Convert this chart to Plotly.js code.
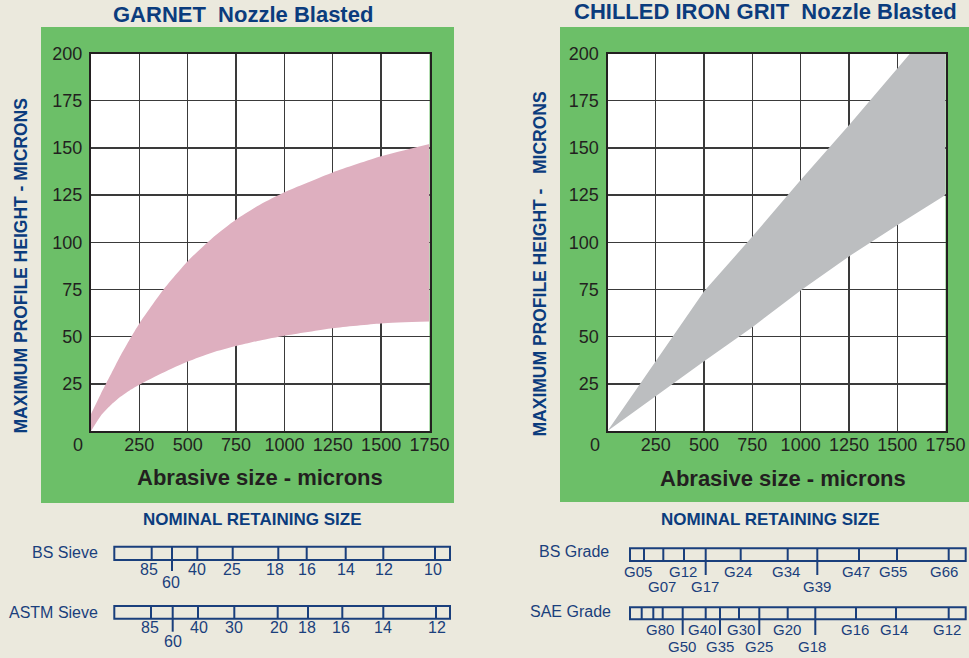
<!DOCTYPE html>
<html><head><meta charset="utf-8">
<script src="https://cdn.plot.ly/plotly-3.0.1.min.js"></script>
<style>html,body{margin:0;padding:0;background:#ebe9dd;}#chart{width:969px;height:658px;}</style>
</head><body><div id="chart"></div>
<script>
// ---------------- data ----------------
const garnetSize = [0, 50, 100, 150, 200, 250, 375, 500, 625, 750, 875, 1000, 1250, 1500, 1750];
const garnetLow  = [0, 8, 13.5, 18, 21.5, 24.5, 31, 36.8, 41.5, 45, 48, 50.5, 54.5, 57, 58];
const garnetHigh = [9, 19.5, 29.5, 39.5, 48.5, 57, 75, 90, 102, 112, 120, 126.5, 137, 145.5, 152];
const ironSize = [0, 250, 500, 750, 1000, 1250, 1500, 1750];
const ironLow  = [0, 18.5, 37, 55, 74.5, 92.5, 109, 125];
const ironHigh = [0, 37, 74, 103, 133, 162, 192, 222];
const xTicks = [250, 500, 750, 1000, 1250, 1500, 1750];
const yTicks = [25, 50, 75, 100, 125, 150, 175, 200];
const bsSieve   = ['85', '60', '40', '25', '18', '16', '14', '12', '10'];
const astmSieve = ['85', '60', '40', '30', '20', '18', '16', '14', '12'];
const bsGrade   = ['G05', 'G07', 'G12', 'G17', 'G24', 'G34', 'G39', 'G47', 'G55', 'G66'];
const saeGrade  = ['G80', 'G50', 'G40', 'G35', 'G30', 'G25', 'G20', 'G18', 'G16', 'G14', 'G12'];

// ---------------- layout helpers ----------------
const W = 969, H = 658;
const px = x => x / W, py = y => 1 - y / H;
const NAVY = '#1a3f7c', TITLE = '#0b3c7d', INK = '#231f20';
const GREEN = '#6cbf68', PINK = '#deafbf', GREY = '#bcbec0';
const SANS = 'Liberation Sans, Arial, Helvetica, sans-serif';
const NARROW = 'Liberation Sans Narrow, Arial Narrow, Liberation Sans, sans-serif';

const sieves = [
  {name: 'BS Sieve', labels: bsSieve, nameX: 99.5, nameY: 552.5, bar: [114.3, 450, 546.7, 560],
   dividers: [151.7, 172, 197.3, 232.7, 278.3, 306.7, 345.7, 383.3, 435], longDiv: [172], longTo: 571,
   labelX: [149, 170.7, 196.7, 232.3, 275.3, 306.7, 345.7, 384, 432.7],
   labelRow: [0, 1, 0, 0, 0, 0, 0, 0, 0], rowY: [569.7, 582.3], size: 16},
  {name: 'ASTM Sieve', labels: astmSieve, nameX: 99.5, nameY: 612.5, bar: [114.3, 450, 606, 618.7],
   dividers: [151, 172.7, 198, 234.3, 277.7, 308, 342.3, 383.3, 436], longDiv: [172.7], longTo: 631.7,
   labelX: [150, 173.3, 199, 234.3, 278.7, 307.3, 340.7, 382.7, 436.7],
   labelRow: [0, 1, 0, 0, 0, 0, 0, 0, 0], rowY: [627.7, 641.7], size: 16},
  {name: 'BS Grade', labels: bsGrade, nameX: 611, nameY: 551.7, bar: [630, 965.7, 548.3, 561],
   dividers: [644, 663.3, 684, 705.7, 740.7, 787.7, 817.3, 859, 897, 948.7], longDiv: [705.7, 817.3], longTo: 575,
   labelX: [637.7, 661.7, 683.3, 705, 738.3, 786, 816.7, 856, 892.7, 944],
   labelRow: [0, 1, 0, 1, 0, 0, 1, 0, 0, 0], rowY: [571, 586], size: 15},
  {name: 'SAE Grade', labels: saeGrade, nameX: 612.5, nameY: 611.7, bar: [630, 965.7, 607.3, 619.3],
   dividers: [641.7, 653.3, 662.7, 682.7, 705.7, 720, 739, 759.3, 787.7, 815.3, 856, 896, 948.7],
   longDiv: [682.7, 720, 759.3, 815.3], longTo: 635,
   labelX: [660, 682.3, 701.7, 720, 740.7, 759.3, 786.7, 812, 855, 894, 946.7],
   labelRow: [0, 1, 0, 1, 0, 1, 0, 1, 0, 0, 0], rowY: [629.3, 646.7], size: 15}
];

// ---------------- traces ----------------
const traces = [
  {x: garnetSize, y: garnetLow, xaxis: 'x', yaxis: 'y', mode: 'lines', line: {width: 0, shape: 'spline', smoothing: 0.6}, hoverinfo: 'skip'},
  {x: garnetSize, y: garnetHigh, xaxis: 'x', yaxis: 'y', mode: 'lines', line: {width: 0, shape: 'spline', smoothing: 0.6},
   fill: 'tonexty', fillcolor: PINK, hoverinfo: 'skip'},
  {x: ironSize, y: ironLow, xaxis: 'x2', yaxis: 'y2', mode: 'lines', line: {width: 0}, hoverinfo: 'skip'},
  {x: ironSize, y: ironHigh, xaxis: 'x2', yaxis: 'y2', mode: 'lines', line: {width: 0},
   fill: 'tonexty', fillcolor: GREY, hoverinfo: 'skip'}
];

// ---------------- axes ----------------
const axBase = {showline: true, mirror: true, linecolor: INK, linewidth: 2, showgrid: true,
  gridcolor: '#3a3a3a', gridwidth: 1.4, zeroline: false, ticks: '', fixedrange: true,
  tickfont: {family: NARROW, size: 18, color: INK}};
const xAx = (dom, anchor) => Object.assign({}, axBase, {domain: dom, anchor: anchor, range: [0, 1750],
  tickmode: 'array', tickvals: xTicks, ticktext: xTicks.map(String), ticklabelstandoff: -4});
const yAx = (anchor) => Object.assign({}, axBase, {domain: [py(431), py(53.5)], anchor: anchor, range: [0, 200],
  tickmode: 'array', tickvals: yTicks, ticktext: yTicks.map(String), ticklabelstandoff: 3});

const shapes = [
  {type: 'rect', xref: 'paper', yref: 'paper', x0: px(41), x1: px(454), y0: py(503), y1: py(27), fillcolor: GREEN, line: {width: 0}, layer: 'below'},
  {type: 'rect', xref: 'paper', yref: 'paper', x0: px(560), x1: px(969), y0: py(502), y1: py(27), fillcolor: GREEN, line: {width: 0}, layer: 'below'},
  {type: 'rect', xref: 'x domain', yref: 'y domain', x0: 0, x1: 1, y0: 0, y1: 1, fillcolor: '#ffffff', line: {width: 0}, layer: 'below'},
  {type: 'rect', xref: 'x2 domain', yref: 'y2 domain', x0: 0, x1: 1, y0: 0, y1: 1, fillcolor: '#ffffff', line: {width: 0}, layer: 'below'}
];

const annotations = [];
const ann = (text, x, y, o) => annotations.push(Object.assign({text: text, xref: 'paper', yref: 'paper',
  x: px(x), y: py(y), showarrow: false, xanchor: 'center', yanchor: 'middle'}, o || {}));

// titles
ann('GARNET\u00A0\u00A0Nozzle Blasted', 243, 15, {font: {family: SANS, size: 22, color: TITLE, weight: 'bold'}});
ann('CHILLED IRON GRIT\u00A0\u00A0Nozzle Blasted', 765, 12, {font: {family: SANS, size: 22, color: TITLE, weight: 'bold'}});
// axis titles
ann('Abrasive size - microns', 260, 477, {font: {family: SANS, size: 22, color: INK, weight: 'bold'}});
ann('Abrasive size - microns', 783, 478, {font: {family: SANS, size: 22, color: INK, weight: 'bold'}});
ann('MAXIMUM PROFILE HEIGHT - MICRONS', 20, 266.5, {textangle: -90, font: {family: SANS, size: 17.5, color: TITLE, weight: 'bold'}});
ann('MAXIMUM PROFILE HEIGHT -\u00A0\u00A0\u00A0MICRONS', 539.5, 264, {textangle: -90, font: {family: SANS, size: 17.5, color: TITLE, weight: 'bold'}});
// shared origin labels
ann('0', 78, 445, {font: {family: NARROW, size: 18, color: INK}});
ann('0', 595.3, 445, {font: {family: NARROW, size: 18, color: INK}});
// nominal retaining size headings
ann('NOMINAL RETAINING SIZE', 252.7, 519, {font: {family: SANS, size: 17, color: TITLE, weight: 'bold'}});
ann('NOMINAL RETAINING SIZE', 770, 519, {font: {family: SANS, size: 17, color: TITLE, weight: 'bold'}});

// sieve scales
sieves.forEach(s => {
  const [bx0, bx1, by0, by1] = s.bar;
  shapes.push({type: 'rect', xref: 'paper', yref: 'paper', x0: px(bx0), x1: px(bx1), y0: py(by1), y1: py(by0),
    line: {color: NAVY, width: 2}, fillcolor: 'rgba(0,0,0,0)'});
  s.dividers.forEach(d => {
    const isLong = s.longDiv.indexOf(d) >= 0;
    shapes.push({type: 'line', xref: 'paper', yref: 'paper', x0: px(d), x1: px(d), y0: py(by0), y1: py(isLong ? s.longTo : by1),
      line: {color: NAVY, width: 2}});
  });
  ann(s.name, s.nameX, s.nameY, {xanchor: 'right', font: {family: SANS, size: 16, color: NAVY}});
  s.labels.forEach((t, i) => ann(t, s.labelX[i], s.rowY[s.labelRow[i]], {font: {family: SANS, size: s.size, color: NAVY}}));
});

const layout = {
  width: W, height: H, margin: {l: 0, r: 0, t: 0, b: 0, pad: 0},
  paper_bgcolor: '#ebe9dd', plot_bgcolor: 'rgba(0,0,0,0)', showlegend: false,
  xaxis: xAx([px(91), px(429.5)], 'y'), yaxis: yAx('x'),
  xaxis2: xAx([px(607.5), px(945.5)], 'y2'), yaxis2: yAx('x2'),
  shapes: shapes, annotations: annotations
};

Plotly.newPlot('chart', traces, layout, {staticPlot: true, displayModeBar: false});
</script>
</body></html>
